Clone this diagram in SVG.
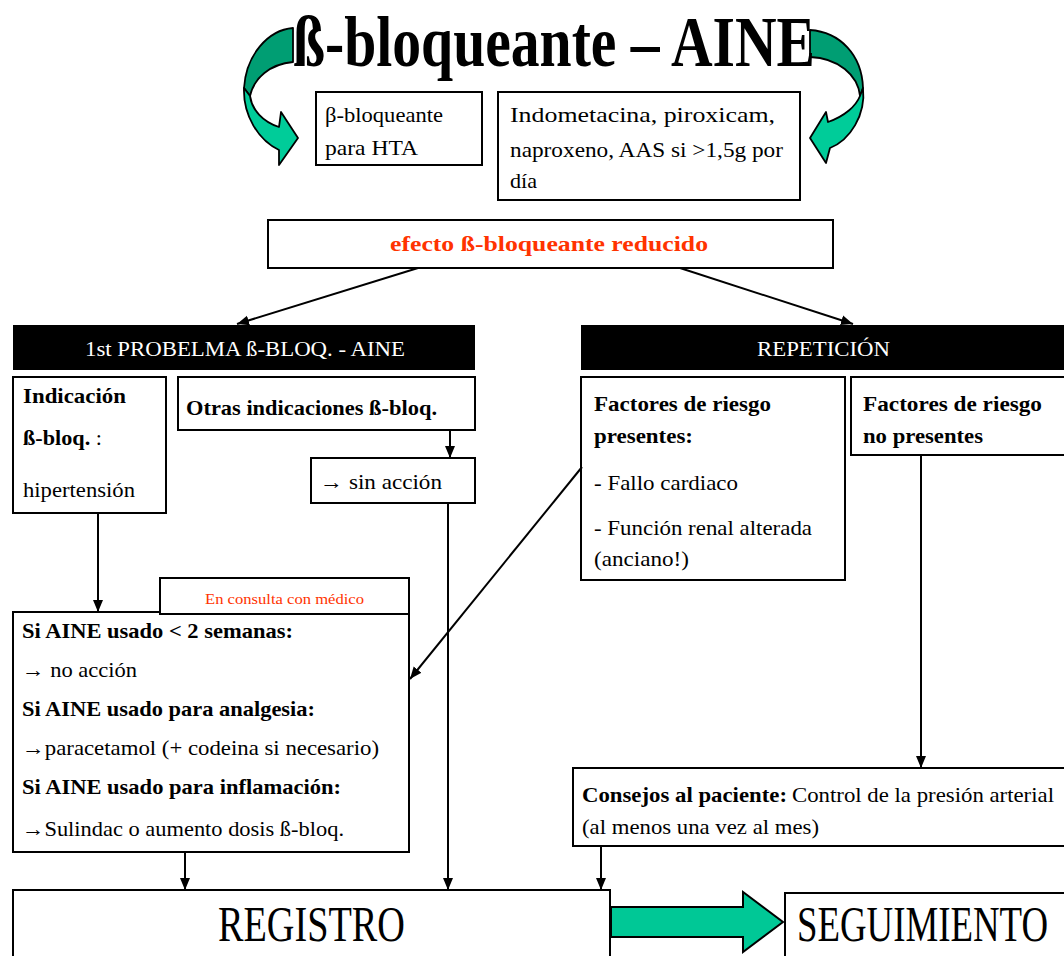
<svg xmlns="http://www.w3.org/2000/svg" width="1064" height="956" viewBox="0 0 1064 956">
<defs>
<style>
.box{fill:#fff;stroke:#000;stroke-width:2}
.hdr{fill:#000;stroke:none}
.t{font-family:"Liberation Serif","Times New Roman",serif;font-size:22px;fill:#000}
.b{font-weight:bold}
.w{fill:#fff}
.red{fill:#ff3300}
.big{font-size:50px}
.ln{stroke:#000;stroke-width:2;fill:none;marker-end:url(#ah)}
.dk{fill:#009e73;stroke:#000;stroke-width:1.8;stroke-linejoin:round}
.lt{fill:#00cc99;stroke:#000;stroke-width:1.8;stroke-linejoin:round}
</style>
<marker id="ah" markerWidth="12" markerHeight="12" viewBox="0 0 12 12" refX="12" refY="6" orient="auto" markerUnits="userSpaceOnUse">
<path d="M0,1 L12,6 L0,11 Z" fill="#000"/>
</marker>
</defs>
<rect width="1064" height="956" fill="#fff"/>

<g id="title">
<path class="dk" d="M293 28 C268 30 246 55 244 88 L250 96 C254 78 270 64 293 62 Z"/>
<path class="lt" d="M244 88 C243 115 258 140 279 150 L279 165 L298 138 L281 112 L279 127 C263 122 252 110 250 96 Z"/>
<path class="dk" d="M810 30 C840 32 862 55 863 88 L860 96 C858 75 838 58 810 57 Z"/>
<path class="lt" d="M863 88 C866 115 850 140 830 148 L826 163 L810 138 L826 112 L828 122 C845 116 856 106 860 96 Z"/>
<text class="t b" x="293" y="66" textLength="522" lengthAdjust="spacingAndGlyphs" style="font-size:72px">ß-bloqueante – AINE</text>
</g>

<g id="n-bloq-hta">
<rect class="box" x="316" y="92" width="166" height="73"/>
<text class="t" x="325" y="122" textLength="118" lengthAdjust="spacingAndGlyphs">β-bloqueante</text>
<text class="t" x="325" y="155" textLength="93" lengthAdjust="spacingAndGlyphs">para HTA</text>
</g>

<g id="n-aine">
<rect class="box" x="498" y="92" width="302" height="108"/>
<text class="t" x="510" y="122" textLength="265" lengthAdjust="spacingAndGlyphs">Indometacina, piroxicam,</text>
<text class="t" x="510" y="157" textLength="273" lengthAdjust="spacingAndGlyphs">naproxeno, AAS si &gt;1,5g por</text>
<text class="t" x="510" y="188" textLength="27" lengthAdjust="spacingAndGlyphs">día</text>
</g>

<g id="n-efecto">
<rect class="box" x="268" y="220" width="565" height="48"/>
<text class="t b red" x="390" y="251" textLength="318" lengthAdjust="spacingAndGlyphs">efecto ß-bloqueante reducido</text>
</g>

<g id="n-hdr1">
<rect class="hdr" x="13" y="325" width="462" height="45"/>
<text class="t w" x="85" y="356" textLength="320" lengthAdjust="spacingAndGlyphs">1st PROBELMA ß-BLOQ. - AINE</text>
</g>

<g id="n-hdr2">
<rect class="hdr" x="581" y="325" width="483" height="45"/>
<text class="t w" x="757" y="356" textLength="133" lengthAdjust="spacingAndGlyphs">REPETICIÓN</text>
</g>

<g id="n-indicacion">
<rect class="box" x="13" y="377" width="153" height="136"/>
<text class="t b" x="23" y="403" textLength="103" lengthAdjust="spacingAndGlyphs">Indicación</text>
<text class="t" x="23" y="445" textLength="79" lengthAdjust="spacingAndGlyphs"><tspan class="b">ß-bloq.</tspan> :</text>
<text class="t" x="23" y="497" textLength="112" lengthAdjust="spacingAndGlyphs">hipertensión</text>
</g>

<g id="n-otras">
<rect class="box" x="178" y="377" width="297" height="53"/>
<text class="t b" x="186" y="415" textLength="251" lengthAdjust="spacingAndGlyphs">Otras indicaciones ß-bloq.</text>
</g>

<g id="n-sinaccion">
<rect class="box" x="311" y="458" width="164" height="45"/>
<text class="t" x="320" y="489" textLength="122" lengthAdjust="spacingAndGlyphs">→ sin acción</text>
</g>

<g id="n-siaine">
<rect class="box" x="13" y="612" width="396" height="240"/>
<text class="t b" x="22" y="638" textLength="271" lengthAdjust="spacingAndGlyphs">Si AINE usado &lt; 2 semanas:</text>
<text class="t" x="22" y="677" textLength="115" lengthAdjust="spacingAndGlyphs">→ no acción</text>
<text class="t b" x="22" y="716" textLength="293" lengthAdjust="spacingAndGlyphs">Si AINE usado para analgesia:</text>
<text class="t" x="22" y="755" textLength="357" lengthAdjust="spacingAndGlyphs">→paracetamol (+ codeina si necesario)</text>
<text class="t b" x="22" y="794" textLength="319" lengthAdjust="spacingAndGlyphs">Si AINE usado para inflamación:</text>
<text class="t" x="22" y="836" textLength="322" lengthAdjust="spacingAndGlyphs">→Sulindac o aumento dosis ß-bloq.</text>
</g>

<g id="n-consulta">
<rect class="box" x="160" y="578" width="249" height="36"/>
<text class="t red" x="205" y="604" style="font-size:14px" textLength="159" lengthAdjust="spacingAndGlyphs">En consulta con médico</text>
</g>

<g id="n-factores">
<rect class="box" x="581" y="377" width="264" height="203"/>
<text class="t b" x="594" y="411" textLength="177" lengthAdjust="spacingAndGlyphs">Factores de riesgo</text>
<text class="t b" x="594" y="443" textLength="99" lengthAdjust="spacingAndGlyphs">presentes:</text>
<text class="t" x="594" y="490" textLength="144" lengthAdjust="spacingAndGlyphs">- Fallo cardiaco</text>
<text class="t" x="594" y="535" textLength="218" lengthAdjust="spacingAndGlyphs">- Función renal alterada</text>
<text class="t" x="594" y="566" textLength="95" lengthAdjust="spacingAndGlyphs">(anciano!)</text>
</g>

<g id="n-nofactores">
<rect class="box" x="851" y="377" width="220" height="78"/>
<text class="t b" x="863" y="411" textLength="179" lengthAdjust="spacingAndGlyphs">Factores de riesgo</text>
<text class="t b" x="863" y="443" textLength="120" lengthAdjust="spacingAndGlyphs">no presentes</text>
</g>

<g id="n-consejos">
<rect class="box" x="573" y="768" width="500" height="78"/>
<text class="t b" x="582" y="802" textLength="205" lengthAdjust="spacingAndGlyphs">Consejos al paciente:</text>
<text class="t" x="792" y="802" textLength="262" lengthAdjust="spacingAndGlyphs">Control de la presión arterial</text>
<text class="t" x="582" y="834" textLength="237" lengthAdjust="spacingAndGlyphs">(al menos una vez al mes)</text>
</g>

<g id="n-registro">
<rect class="box" x="13" y="890" width="597" height="80"/>
<text class="t big" x="218" y="941" textLength="187" lengthAdjust="spacingAndGlyphs">REGISTRO</text>
</g>

<g id="n-seguimiento">
<rect class="box" x="785" y="893" width="290" height="80"/>
<text class="t big" transform="translate(797,941) scale(0.737,1)" x="0" y="0">SEGUIMIENTO</text>
</g>

<g id="connectors">
<line class="ln" x1="418" y1="268" x2="237" y2="324"/>
<line class="ln" x1="680" y1="268" x2="853" y2="324"/>
<line class="ln" x1="450" y1="430" x2="450" y2="458"/>
<line class="ln" x1="448" y1="503" x2="448" y2="890"/>
<line class="ln" x1="98" y1="513" x2="98" y2="612"/>
<line class="ln" x1="582" y1="467" x2="410" y2="679"/>
<line class="ln" x1="185" y1="852" x2="185" y2="890"/>
<line class="ln" x1="921" y1="455" x2="921" y2="768"/>
<line class="ln" x1="601" y1="846" x2="601" y2="890"/>
<polygon points="611,907 743,907 743,892 783,922 743,952 743,937 611,937" fill="#00c896" stroke="#000" stroke-width="2" stroke-linejoin="miter"/>
</g>
</svg>
